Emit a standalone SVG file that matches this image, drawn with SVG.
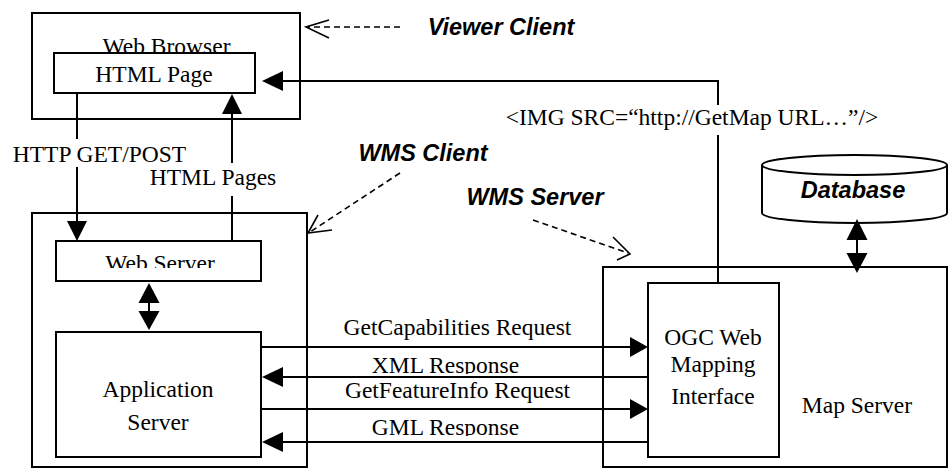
<svg xmlns="http://www.w3.org/2000/svg" width="949" height="471" viewBox="0 0 949 471">
<style>
.box{fill:#fff;stroke:#000;stroke-width:2}
.ln{fill:none;stroke:#000;stroke-width:2}
.ds{fill:none;stroke:#000;stroke-width:1.6;stroke-dasharray:6 4}
.op{fill:none;stroke:#000;stroke-width:1.6}
.ah{fill:#000;stroke:none}
.t{font-family:"Liberation Serif","Times New Roman",serif;font-size:23.5px;fill:#000;text-anchor:middle}
.b{font-family:"Liberation Sans",Arial,sans-serif;font-size:23.5px;font-weight:bold;font-style:italic;fill:#000;text-anchor:middle}
</style>
<defs>
<clipPath id="cWS"><rect x="56" y="241" width="205" height="27"/></clipPath>
<clipPath id="cXML"><rect x="300" y="350" width="300" height="24"/></clipPath>
<clipPath id="cGML"><rect x="300" y="412" width="300" height="24"/></clipPath>
</defs>
<rect width="949" height="471" fill="#fff"/>

<g id="web-browser">
<rect class="box" x="32" y="13" width="268" height="106"/>
<text class="t" x="166.5" y="54">Web Browser</text>
</g>
<g id="html-page">
<rect class="box" x="54" y="53" width="201" height="40"/>
<text class="t" x="154" y="82">HTML Page</text>
</g>

<g id="viewer-client-label">
<text class="b" x="501" y="35">Viewer Client</text>
</g>
<g id="wms-client-label">
<text class="b" x="423" y="161">WMS Client</text>
</g>
<g id="wms-server-label">
<text class="b" x="535" y="205">WMS Server</text>
</g>

<g id="wms-client">
<rect class="box" x="32" y="213" width="275" height="254"/>
</g>
<g id="web-server">
<rect class="box" x="56" y="241" width="205" height="40"/>
<text class="t" x="160" y="271" clip-path="url(#cWS)">Web Server</text>
</g>
<g id="application-server">
<rect class="box" x="56" y="332" width="205" height="125"/>
<text class="t" x="158" y="397">Application</text>
<text class="t" x="158" y="430">Server</text>
</g>

<g id="map-server">
<rect class="box" x="603" y="267" width="344" height="200"/>
<text class="t" x="857" y="413">Map Server</text>
</g>
<g id="ogc-interface">
<rect class="box" x="648" y="283" width="131" height="174"/>
<text class="t" x="713" y="345">OGC Web</text>
<text class="t" x="713" y="372">Mapping</text>
<text class="t" x="713" y="404">Interface</text>
</g>

<g id="database">
<path class="box" d="M762,165 L762,213 A92.5,10 0 0,0 947,213 L947,165 A92.5,10 0 0,0 762,165 Z"/>
<path class="ln" d="M762,165 A92.5,10 0 0,0 947,165"/>
<text class="b" x="853" y="198">Database</text>
</g>

<g id="connectors">
<!-- viewer client dashed pointer -->
<path class="ds" d="M400,27 L308,27"/>
<path class="op" d="M329,20 L306,27 L329,38"/>
<!-- wms client dashed pointer -->
<path class="ds" d="M400,173 L310,232"/>
<path class="op" d="M318,215 L308,233 L332,230"/>
<!-- wms server dashed pointer -->
<path class="ds" d="M533,220 L628,253"/>
<path class="op" d="M613,237 L630,254 L617,260"/>

<!-- IMG SRC link -->
<path class="ln" d="M283,81 L718,81 L718,105"/>
<path class="ln" d="M718,135 L718,283"/>
<polygon class="ah" points="262,81 283,71 283,91"/>
<text class="t" x="692" y="125">&lt;IMG SRC=“http://GetMap URL…”/&gt;</text>

<!-- HTTP GET/POST -->
<path class="ln" d="M77,93 L77,139"/>
<path class="ln" d="M77,167 L77,222"/>
<polygon class="ah" points="77,241 67,221 87,221"/>
<text class="t" x="99.5" y="162">HTTP GET/POST</text>

<!-- HTML Pages -->
<path class="ln" d="M232,241 L232,196"/>
<path class="ln" d="M232,163 L232,113"/>
<polygon class="ah" points="232,94 222,114 242,114"/>
<text class="t" x="213" y="185">HTML Pages</text>

<!-- web server <-> app server -->
<path class="ln" d="M149,302 L149,312"/>
<polygon class="ah" points="149,283 138.5,303 159.5,303"/>
<polygon class="ah" points="149,330 138.5,311 159.5,311"/>

<!-- database <-> map server -->
<path class="ln" d="M857,239 L857,254"/>
<polygon class="ah" points="857,219 846.5,240 867.5,240"/>
<polygon class="ah" points="857,273 846.5,253 867.5,253"/>

<!-- requests / responses -->
<path class="ln" d="M261,347 L631,347"/>
<polygon class="ah" points="648,347 630,337 630,357"/>
<text class="t" x="457.5" y="335">GetCapabilities Request</text>

<path class="ln" d="M648,377 L282,377"/>
<polygon class="ah" points="262,377 283,367 283,387"/>
<text class="t" x="445.5" y="373" clip-path="url(#cXML)">XML Response</text>

<path class="ln" d="M261,409 L631,409"/>
<polygon class="ah" points="648,409 630,399 630,419"/>
<text class="t" x="457.5" y="398">GetFeatureInfo Request</text>

<path class="ln" d="M648,442 L282,442"/>
<polygon class="ah" points="262,442 283,432 283,452"/>
<text class="t" x="445.5" y="435" clip-path="url(#cGML)">GML Response</text>
</g>
</svg>
